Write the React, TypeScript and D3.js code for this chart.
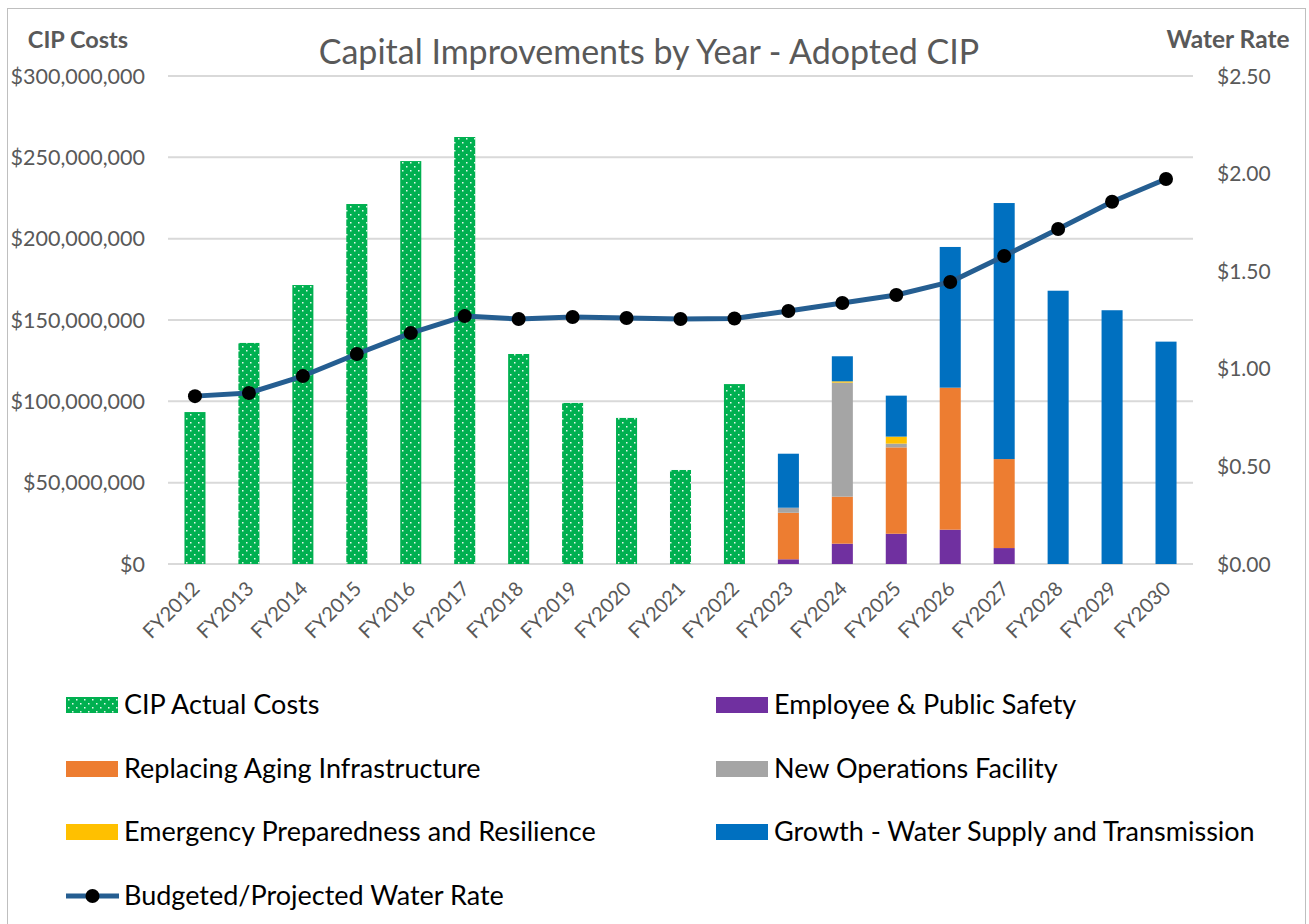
import React, { useEffect, useRef } from "react";
import * as d3 from "d3";

// categories
const years = [
  "FY2012", "FY2013", "FY2014", "FY2015", "FY2016", "FY2017", "FY2018",
  "FY2019", "FY2020", "FY2021", "FY2022", "FY2023", "FY2024", "FY2025",
  "FY2026", "FY2027", "FY2028", "FY2029", "FY2030",
];

// actual costs, $M (FY2012 - FY2022)
const actualYears = years.slice(0, 11);
const actualCosts = [93.4, 135.9, 171.5, 221.3, 247.7, 262.5, 129.1, 99.0, 89.8, 57.8, 110.6];

// adopted CIP by category, $M (FY2023 - FY2030)
const cipYears = years.slice(11);
const employeeSafety = [2.9, 12.5, 18.6, 21.1, 9.8, 0, 0, 0];
const replacingAging = [28.6, 28.9, 53.1, 87.3, 54.7, 0, 0, 0];
const newOperations = [3.1, 70.1, 2.3, 0, 0, 0, 0, 0];
const emergencyPrep = [0, 0.8, 4.3, 0, 0, 0, 0, 0];
const growthSupply = [33.2, 15.4, 25.2, 86.5, 157.4, 168.0, 156.0, 136.7];

// water rate, $ per unit
const waterRate = [
  0.86, 0.876, 0.963, 1.076, 1.183, 1.27, 1.255, 1.265, 1.26, 1.255, 1.258,
  1.296, 1.337, 1.378, 1.445, 1.578, 1.716, 1.856, 1.972,
];

const leftTicks = [0, 50, 100, 150, 200, 250, 300];
const rightTicks = [0, 0.5, 1, 1.5, 2, 2.5];

const stackKeys = ["employee", "replacing", "newOps", "emergency", "growth"];
const stackColors: Record<string, string> = {
  employee: "#7030A0",
  replacing: "#ED7D31",
  newOps: "#A5A5A5",
  emergency: "#FFC000",
  growth: "#0070C0",
};

const FONT = "Lato, 'Open Sans', sans-serif";

function Chart() {
  const ref = useRef<SVGSVGElement>(null);

  useEffect(() => {
    const svg = d3.select(ref.current);
    svg.selectAll("*").remove();

    const left = 168, right = 1193, top = 76, bottom = 564;

    const x = d3.scaleBand().domain(years).range([left, right]).paddingInner(0.61).paddingOuter(0.305);
    const y = d3.scaleLinear().domain([0, 300e6]).range([bottom, top]);
    const y2 = d3.scaleLinear().domain([0, 2.5]).range([bottom, top]);

    const defs = svg.append("defs");
    const pat = defs.append("pattern")
      .attr("id", "dots")
      .attr("patternUnits", "userSpaceOnUse")
      .attr("width", 8)
      .attr("height", 8);
    pat.append("rect").attr("width", 8).attr("height", 8).attr("fill", "#00B050");
    pat.append("rect").attr("x", 2).attr("y", 2).attr("width", 1.5).attr("height", 1.5).attr("fill", "#E8F8EE");
    pat.append("rect").attr("x", 6).attr("y", 6).attr("width", 1.5).attr("height", 1.5).attr("fill", "#E8F8EE");

    // outer border
    svg.append("rect")
      .attr("x", 7.5).attr("y", 8.5)
      .attr("width", 1298).attr("height", 930)
      .attr("fill", "white")
      .attr("stroke", "#BFBFBF");

    // gridlines
    svg.append("g")
      .selectAll("line")
      .data(leftTicks)
      .join("line")
      .attr("x1", left).attr("x2", right)
      .attr("y1", (d) => y(d * 1e6)).attr("y2", (d) => y(d * 1e6))
      .attr("stroke", "#D9D9D9")
      .attr("stroke-width", 2);

    // left axis labels
    svg.append("g")
      .selectAll("text")
      .data(leftTicks)
      .join("text")
      .attr("x", 145)
      .attr("y", (d) => y(d * 1e6) + 7.5)
      .attr("text-anchor", "end")
      .attr("font-family", FONT)
      .attr("font-size", 21.5)
      .attr("fill", "#595959")
      .text((d) => d3.format("$,")(d * 1e6));

    // right axis labels
    svg.append("g")
      .selectAll("text")
      .data(rightTicks)
      .join("text")
      .attr("x", 1217)
      .attr("y", (d) => y2(d) + 7.5)
      .attr("font-family", FONT)
      .attr("font-size", 21)
      .attr("fill", "#595959")
      .text((d) => d3.format("$.2f")(d));

    // x labels
    svg.append("g")
      .selectAll("text")
      .data(years)
      .join("text")
      .attr("transform", (d) => `translate(${x(d)! + x.bandwidth() / 2 + 6},${bottom + 26}) rotate(-45)`)
      .attr("text-anchor", "end")
      .attr("font-family", FONT)
      .attr("font-size", 20)
      .attr("fill", "#595959")
      .text((d) => d);

    // actual cost bars
    svg.append("g")
      .selectAll("rect")
      .data(actualYears)
      .join("rect")
      .attr("x", (d) => x(d)!)
      .attr("width", x.bandwidth())
      .attr("y", (d, i) => y(actualCosts[i] * 1e6))
      .attr("height", (d, i) => bottom - y(actualCosts[i] * 1e6))
      .attr("fill", "url(#dots)");

    // stacked CIP bars
    const rows = cipYears.map((yr, i) => ({
      year: yr,
      employee: employeeSafety[i] * 1e6,
      replacing: replacingAging[i] * 1e6,
      newOps: newOperations[i] * 1e6,
      emergency: emergencyPrep[i] * 1e6,
      growth: growthSupply[i] * 1e6,
    }));
    const series = d3.stack<any>().keys(stackKeys)(rows);

    svg.append("g")
      .selectAll("g")
      .data(series)
      .join("g")
      .attr("fill", (s) => stackColors[s.key])
      .selectAll("rect")
      .data((s) => s)
      .join("rect")
      .attr("x", (d) => x(d.data.year)!)
      .attr("width", x.bandwidth())
      .attr("y", (d) => y(d[1]))
      .attr("height", (d) => y(d[0]) - y(d[1]));

    // water rate line
    const line = d3.line<number>()
      .x((d, i) => x(years[i])! + x.bandwidth() / 2)
      .y((d) => y2(d));

    svg.append("path")
      .datum(waterRate)
      .attr("fill", "none")
      .attr("stroke", "#255E91")
      .attr("stroke-width", 5)
      .attr("stroke-linejoin", "round")
      .attr("d", line);

    svg.append("g")
      .selectAll("circle")
      .data(waterRate)
      .join("circle")
      .attr("cx", (d, i) => x(years[i])! + x.bandwidth() / 2)
      .attr("cy", (d) => y2(d))
      .attr("r", 7)
      .attr("fill", "black");

    // titles
    svg.append("text")
      .attr("x", 649).attr("y", 64)
      .attr("text-anchor", "middle")
      .attr("font-family", FONT)
      .attr("font-size", 34)
      .attr("fill", "#595959")
      .text("Capital Improvements by Year - Adopted CIP");

    svg.append("text")
      .attr("x", 78).attr("y", 48)
      .attr("text-anchor", "middle")
      .attr("font-family", FONT)
      .attr("font-size", 23.5)
      .attr("font-weight", "bold")
      .attr("fill", "#595959")
      .text("CIP Costs");

    svg.append("text")
      .attr("x", 1228).attr("y", 48)
      .attr("text-anchor", "middle")
      .attr("font-family", FONT)
      .attr("font-size", 24.5)
      .attr("font-weight", "bold")
      .attr("fill", "#595959")
      .text("Water Rate");

    // legend
    const legendItems = [
      { label: "CIP Actual Costs", fill: "url(#dots)", col: 0, row: 0 },
      { label: "Employee & Public Safety", fill: stackColors.employee, col: 1, row: 0 },
      { label: "Replacing Aging Infrastructure", fill: stackColors.replacing, col: 0, row: 1 },
      { label: "New Operations Facility", fill: stackColors.newOps, col: 1, row: 1 },
      { label: "Emergency Preparedness and Resilience", fill: stackColors.emergency, col: 0, row: 2 },
      { label: "Growth - Water Supply and Transmission", fill: stackColors.growth, col: 1, row: 2 },
      { label: "Budgeted/Projected Water Rate", fill: "line", col: 0, row: 3 },
    ];
    const rowY = [705, 769, 832, 896];
    const colX = [66, 716];

    const lg = svg.append("g")
      .selectAll("g")
      .data(legendItems)
      .join("g")
      .attr("transform", (d) => `translate(${colX[d.col]},${rowY[d.row]})`);

    lg.filter((d) => d.fill !== "line")
      .append("rect")
      .attr("x", 0).attr("y", -8)
      .attr("width", 52).attr("height", 16)
      .attr("fill", (d) => d.fill);

    const ll = lg.filter((d) => d.fill === "line");
    ll.append("line")
      .attr("x1", 0).attr("x2", 53)
      .attr("stroke", "#255E91")
      .attr("stroke-width", 5);
    ll.append("circle")
      .attr("cx", 26.5)
      .attr("r", 7)
      .attr("fill", "black");

    lg.append("text")
      .attr("x", 58)
      .attr("y", 9)
      .attr("font-family", FONT)
      .attr("font-size", 27)
      .attr("fill", "black")
      .text((d) => d.label);
  }, []);

  return (
    <svg
      ref={ref}
      width={1309}
      height={924}
      style={{ position: "absolute", left: 0, top: 0 }}
    />
  );
}

export default function App() {
  return <Chart />;
}
